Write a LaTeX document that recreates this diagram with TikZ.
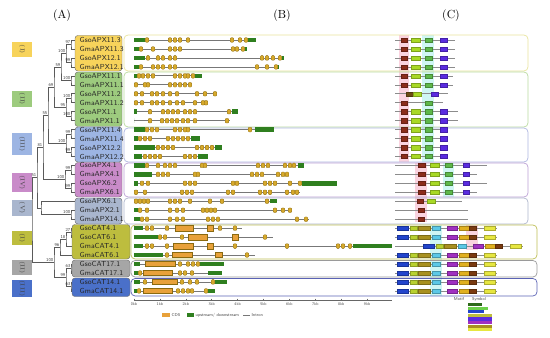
\documentclass[tikz,border=0pt]{standalone}
\usepackage{fontspec}
\usepackage{tikz}
\usetikzlibrary{calc,positioning}

\definecolor{apxI}{HTML}{F7D35B}
\definecolor{apxII}{HTML}{9DCB7E}
\definecolor{apxIII}{HTML}{9DB5E3}
\definecolor{apxIV}{HTML}{C98BC9}
\definecolor{apxV}{HTML}{A9B6CE}
\definecolor{catI}{HTML}{BDBD3E}
\definecolor{catII}{HTML}{A6A6A6}
\definecolor{catIII}{HTML}{4A70C9}
\definecolor{oI}{HTML}{E8E49C}
\definecolor{oII}{HTML}{B9DA9F}
\definecolor{oIII}{HTML}{AEB6E0}
\definecolor{oIV}{HTML}{BBA0D4}
\definecolor{oV}{HTML}{AEB6CB}
\definecolor{ocI}{HTML}{BDBD55}
\definecolor{ocII}{HTML}{9A9A9A}
\definecolor{ocIII}{HTML}{5A62B4}
\definecolor{treec}{HTML}{5A5A5A}
\definecolor{utrc}{HTML}{2F7F1F}
\definecolor{exonc}{HTML}{D6A92C}
\definecolor{exond}{HTML}{8A6A10}
\definecolor{cdsc}{HTML}{E8A13A}
\definecolor{intronc}{HTML}{777777}
\definecolor{pinkst}{HTML}{FAD3DF}
\definecolor{cyanst}{HTML}{CFF6F4}
\definecolor{mRed}{HTML}{8B2C1A}
\definecolor{mLime}{HTML}{A8D926}
\definecolor{mGreen}{HTML}{5DB84A}
\definecolor{mPurp}{HTML}{5A2BE0}
\definecolor{mBrown}{HTML}{6B4A12}
\definecolor{cBlue}{HTML}{2244CC}
\definecolor{cYG}{HTML}{B8D030}
\definecolor{cOlive}{HTML}{A89020}
\definecolor{cCyan}{HTML}{5BC8E6}
\definecolor{cMag}{HTML}{A030C0}
\definecolor{cGold}{HTML}{E0B020}
\definecolor{cBrn}{HTML}{7A3A10}
\definecolor{cYel}{HTML}{E6E640}
\definecolor{lgD}{HTML}{2E6B1A}
\definecolor{lgL}{HTML}{6CD04A}

% one gene model: row, end, utr pieces, exons
\newcommand{\gene}[4]{%
  \pgfmathsetmacro{\gy}{40+8.96*#1}
  \draw[intron] (134,\gy) -- (#2,\gy);
  \foreach \ua/\ub in {#3} {\fill[utrc] (\ua,\gy-2.2) rectangle (\ub,\gy+2.2);}
  \foreach \ex in {#4} {\draw[exon] (\ex-1.8,\gy-2.3) rectangle (\ex+1.8,\gy+2.3);}
}
% long coding block
\newcommand{\cdsb}[3]{%
  \pgfmathsetmacro{\gy}{40+8.96*#1}
  \draw[cdsblk] (#2,\gy-2.6) rectangle (#3,\gy+2.6);
}
% one motif row: row, end, motifs
\newcommand{\motifrow}[3]{%
  \pgfmathsetmacro{\my}{40+8.96*#1}
  \draw[mline] (395,\my) -- (#2,\my);
  \foreach \ma/\mb/\mc in {#3} {\draw[motif,fill=\mc,draw=\mc!75!black] (\ma,\my-2.1) rectangle (\mb,\my+2.1);}
}

\begin{document}
\begin{tikzpicture}[x=0.03cm,y=-0.03cm,
    hdr/.style={font=\fontsize{10}{12}\selectfont,inner sep=0pt},
    branch/.style={draw=treec,line width=0.45pt},
    boot/.style={font=\sffamily\fontsize{3.8}{4}\selectfont,text=black!75,inner sep=0.4pt,anchor=south east},
    gname/.style={font=\sffamily\fontsize{6.2}{7}\selectfont,text=black!85,anchor=west,inner sep=0pt},
    namebox/.style={draw=black!55,line width=0.4pt,rounded corners=2.5pt},
    grpbox/.style={line width=0.6pt,rounded corners=3.5pt},
    sublab/.style={rotate=-90,minimum height=0.6cm,inner sep=0pt,font=\fontsize{5}{6}\selectfont,text=black!75},
    intron/.style={draw=intronc,line width=0.6pt},
    exon/.style={fill=exonc,draw=exond,line width=0.25pt,rounded corners=0.8pt},
    cdsblk/.style={fill=cdsc,draw=exond,line width=0.25pt},
    mline/.style={draw=black!45,line width=0.5pt},
    motif/.style={line width=0.2pt},
    axis/.style={draw=black!60,line width=0.4pt},
    tick/.style={font=\sffamily\fontsize{3.4}{4}\selectfont,text=black!70,inner sep=0pt},
    legt/.style={font=\sffamily\fontsize{3.6}{4}\selectfont,text=black!75,anchor=west,inner sep=0pt}]

    \useasboundingbox (0,0) rectangle (550,338);

    % panel headers
    \node[hdr] (hA) at (62,16) {(A)};
    \node[hdr] (hB) at (282,16) {(B)};
    \node[hdr] (hC) at (451,16) {(C)};

    % subfamily tags
    \node[sublab,fill=apxI,minimum width=0.45cm] (sI) at (22,49.5) {(I)};
    \node[sublab,fill=apxII,minimum width=0.48cm] (sII) at (22,99) {(II)};
    \node[sublab,fill=apxIII,minimum width=0.66cm] (sIII) at (22,144) {(III)};
    \node[sublab,fill=apxIV,minimum width=0.57cm] (sIV) at (22,182.5) {(IV)};
    \node[sublab,fill=apxV,minimum width=0.48cm] (sV) at (22,208) {(V)};
    \node[sublab,fill=catI,minimum width=0.42cm] (scI) at (22,238) {(I)};
    \node[sublab,fill=catII,minimum width=0.45cm] (scII) at (22,267.5) {(II)};
    \node[sublab,fill=catIII,minimum width=0.51cm] (scIII) at (22,288.5) {(III)};

    % leaves and inner nodes of the tree
    \foreach \r in {0,...,20} {\coordinate (L\r) at (76,{40+8.96*\r});}
    \foreach \r in {21,...,28} {\coordinate (L\r) at (73,{40+8.96*\r});}
    \coordinate (nI1) at (71,44.5);
    \coordinate (nI2) at (71,62.4);
    \coordinate (nI) at (66,53.4);
    \coordinate (nII1) at (71,80.3);
    \coordinate (nII2) at (71,98.2);
    \coordinate (nII3) at (71,116.2);
    \coordinate (nII23) at (66,107.2);
    \coordinate (n59) at (61,66.9);
    \coordinate (n69) at (54,87);
    \coordinate (nIII1) at (71,134.1);
    \coordinate (nIII2) at (71,152);
    \coordinate (nIII) at (66,143);
    \coordinate (n55) at (48,115);
    \coordinate (nIV1) at (71,169.9);
    \coordinate (nIV2) at (71,187.8);
    \coordinate (nIV) at (65,178.9);
    \coordinate (n81) at (43,147);
    \coordinate (nV1) at (71,214.7);
    \coordinate (nV) at (41,208);
    \coordinate (n51) at (37,177.5);
    \coordinate (nC1) at (71,232.6);
    \coordinate (nC2) at (66,239.4);
    \coordinate (nC3) at (60,247.2);
    \coordinate (nC4) at (71,268.5);
    \coordinate (nC5) at (71,286.4);
    \coordinate (nC45) at (66,277.4);
    \coordinate (nC) at (54,262.3);
    \coordinate (root) at (32,219.9);

    % branches
    \draw[branch] (L0) -| (nI1) |- (L1);
    \draw[branch] (L2) -| (nI2) |- (L3);
    \draw[branch] (nI1) -| (nI) |- (nI2);
    \draw[branch] (L4) -| (nII1) |- (L5);
    \draw[branch] (L6) -| (nII2) |- (L7);
    \draw[branch] (L8) -| (nII3) |- (L9);
    \draw[branch] (nII2) -| (nII23) |- (nII3);
    \draw[branch] (nI) -| (n59) |- (nII1);
    \draw[branch] (n59) -| (n69) |- (nII23);
    \draw[branch] (L10) -| (nIII1) |- (L11);
    \draw[branch] (L12) -| (nIII2) |- (L13);
    \draw[branch] (nIII1) -| (nIII) |- (nIII2);
    \draw[branch] (n69) -| (n55) |- (nIII);
    \draw[branch] (L14) -| (nIV1) |- (L15);
    \draw[branch] (L16) -| (nIV2) |- (L17);
    \draw[branch] (nIV1) -| (nIV) |- (nIV2);
    \draw[branch] (n55) -| (n81) |- (nIV);
    \draw[branch] (L19) -| (nV1) |- (L20);
    \draw[branch] (L18) -| (nV) |- (nV1);
    \draw[branch] (n81) -| (n51) |- (nV);
    \draw[branch] (L21) -| (nC1) |- (L22);
    \draw[branch] (nC1) -| (nC2) |- (L23);
    \draw[branch] (nC2) -| (nC3) |- (L24);
    \draw[branch] (L25) -| (nC4) |- (L26);
    \draw[branch] (L27) -| (nC5) |- (L28);
    \draw[branch] (nC4) -| (nC45) |- (nC5);
    \draw[branch] (nC3) -| (nC) |- (nC45);
    \draw[branch] (n51) -| (root) |- (nC);

    % bootstrap values
    \node[boot] (bI1) at (nI1) {97};
    \node[boot] (bI2) at (nI2) {99};
    \node[boot] (bI) at (nI) {100};
    \node[boot] (bII1) at (nII1) {100};
    \node[boot] (bII2) at (nII2) {100};
    \node[boot] (bII3) at (nII3) {100};
    \node[boot] (bII23) at (nII23) {95};
    \node[boot] (b59) at (n59) {59};
    \node[boot] (b69) at (n69) {69};
    \node[boot] (bIII1) at (nIII1) {99};
    \node[boot] (bIII2) at (nIII2) {99};
    \node[boot] (bIII) at (nIII) {100};
    \node[boot] (b55) at (n55) {55};
    \node[boot] (bIV1) at (nIV1) {99};
    \node[boot] (bIV2) at (nIV2) {99};
    \node[boot] (bIV) at (nIV) {100};
    \node[boot] (b81) at (n81) {81};
    \node[boot] (bV1) at (nV1) {100};
    \node[boot] (b51) at (n51) {51};
    \node[boot] (bC1) at (nC1) {27};
    \node[boot] (bC2) at (nC2) {18};
    \node[boot] (bC3) at (nC3) {96};
    \node[boot] (bC4) at (nC4) {63};
    \node[boot] (bC5) at (nC5) {63};
    \node[boot] (bC45) at (nC45) {99};
    \node[boot] (bC) at (nC) {100};

    % coloured boxes behind the names
    \draw[namebox,fill=apxI] (75,35.5) rectangle (122,71);
    \draw[namebox,fill=apxII] (75,72) rectangle (122,126.5);
    \draw[namebox,fill=apxIII] (75,127) rectangle (122,162);
    \draw[namebox,fill=apxIV] (75,162.5) rectangle (122,197);
    \draw[namebox,fill=apxV] (75,198) rectangle (122,224);
    \draw[namebox,fill=catI] (72,224.5) rectangle (130,259);
    \draw[namebox,fill=catII] (72,260) rectangle (130,277);
    \draw[namebox,fill=catIII] (72,278) rectangle (130,296.5);

    % gene names
    \foreach \r/\nm in {0/GsoAPX11.3,1/GmaAPX11.3,2/GsoAPX12.1,3/GmaAPX12.1,
        4/GsoAPX11.1,5/GmaAPX11.1,6/GsoAPX11.2,7/GmaAPX11.2,8/GsoAPX1.1,9/GmaAPX1.1,
        10/GsoAPX11.4,11/GmaAPX11.4,12/GsoAPX12.2,13/GmaAPX12.2,
        14/GsoAPX4.1,15/GmaAPX4.1,16/GsoAPX6.2,17/GmaAPX6.1,
        18/GsoAPX6.1,19/GmaAPX2.1,20/GmaAPX14.1,
        21/GsoCAT4.1,22/GsoCAT6.1,23/GmaCAT4.1,24/GmaCAT6.1,
        25/GsoCAT17.1,26/GmaCAT17.1,27/GsoCAT14.1,28/GmaCAT14.1}
        {\node[gname] (gn\r) at (79.5,{40+8.96*\r}) {\nm};}

    % highlight stripes in (C)
    \fill[pinkst] (399,35) rectangle (409,162);
    \fill[cyanst] (422,35) rectangle (434,162);
    \fill[pinkst] (415,163) rectangle (427,222);
    \fill[cyanst] (443,163) rectangle (454,197);
    \fill[cyanst] (430,225) rectangle (442,296);
    \fill[pinkst] (466,225) rectangle (478,250);

    % group frames over (B) and (C)
    \draw[grpbox,draw=oI] (124,35) rectangle (528,71);
    \draw[grpbox,draw=oII] (124,72) rectangle (528,127);
    \draw[grpbox,draw=oIII] (124,128) rectangle (528,162);
    \draw[grpbox,draw=oIV] (124,163) rectangle (528,197);
    \draw[grpbox,draw=oV] (124,198) rectangle (528,224);
    \draw[grpbox,draw=ocI] (131,225) rectangle (537,259);
    \draw[grpbox,draw=ocII] (131,260.5) rectangle (537,277);
    \draw[grpbox,draw=ocIII] (131,278.5) rectangle (537,296);

    % gene structures (B)
    \gene{0}{256}{134/145,248/256}{147,170,175,180,188,232,240,246}
    \gene{1}{247}{134/139,245/247}{141,153,170,175,180,233,237,243}
    \gene{2}{284}{134/145,282/284}{148,158,163,170,175,262,267,273,280}
    \gene{3}{279}{134/139,277/279}{141,153,158,163,170,175,257,267,276}
    \gene{4}{202}{134/137,195/202}{139,143,148,153,175,180,185,188,193}
    \gene{5}{191}{134/134}{136,145,148,170,175,180,185,190}
    \gene{6}{217}{134/134}{136,142,152,157,163,170,177,197,205,215}
    \gene{7}{208}{134/134}{136,142,152,157,163,170,177,183,195,203,206}
    \gene{8}{238}{134/137,232/238}{150,163,168,173,178,185,190,195,229}
    \gene{9}{230}{134/134}{150,162,167,172,177,183,188,195,227}
    \gene{10}{274}{134/145,255/274}{147,152,157,175,180,185,188,250}
    \gene{11}{200}{134/138,191/200}{140,145,150,168,173,178,183,188}
    \gene{12}{222}{134/155,215/222}{158,163,168,173,197,202,207,212}
    \gene{13}{208}{134/142,198/208}{145,150,155,160,185,190,195}
    \gene{14}{304}{134/145,298/304}{147,158,165,170,175,202,205,258,263,268,285,290,294}
    \gene{15}{289}{134/152}{158,163,168,195,198,252,257,262,278,283,287}
    \gene{16}{337}{134/138,302/337}{142,148,185,190,195,233,237,265,270,275,290,300}
    \gene{17}{300}{134/134}{136,145,182,187,192,228,233,260,265,270,287,293,297}
    \gene{18}{277}{134/134,270/277}{136,140,144,148,170,175,180,190,210,222,267}
    \gene{19}{292}{134/138}{140,147,170,177,183,203,207,211,215,275,283,290}
    \gene{20}{309}{134/140}{142,147,170,177,183,208,213,218,297,306}
    \gene{21}{242}{134/143}{147,152,167,220,235}
    \cdsb{21}{175}{193} \cdsb{21}{207}{213}
    \gene{22}{273}{134/158}{160,165,182,265}
    \cdsb{22}{188}{207} \cdsb{22}{232}{238}
    \gene{23}{392}{134/143,353/392}{147,152,167,235,287,338,343,350}
    \cdsb{23}{173}{193} \cdsb{23}{207}{213}
    \gene{24}{255}{134/163}{167,247}
    \cdsb{24}{172}{192} \cdsb{24}{215}{222}
    \gene{25}{224}{134/140,200/224}{180,188,193,198}
    \cdsb{25}{145}{175}
    \gene{26}{222}{134/138,208/222}{140,180,185,192}
    \cdsb{26}{143}{172}
    \gene{27}{227}{134/140,215/227}{145,182,190,197,213}
    \cdsb{27}{152}{177}
    \gene{28}{215}{134/137,208/215}{139,178,183,188,192,206}
    \cdsb{28}{143}{172}

    % scale bar
    \draw[axis] (134,300) -- (392,300);
    \foreach \k in {0,...,9} {
        \draw[axis] ({134+25.9*\k},298.5) -- ({134+25.9*\k},300);
        \node[tick] (t\k) at ({134+25.9*\k},304) {\k kb};
    }

    % legend (B)
    \fill[cdsc] (162,313) rectangle (170,317);
    \node[legt] (lcds) at (171.5,315) {CDS};
    \fill[utrc] (187,313) rectangle (194,317);
    \node[legt] (lutr) at (195.5,315) {upstream/ downstream};
    \draw[intron,line width=0.8pt] (243,315) -- (250,315);
    \node[legt] (lint) at (251.5,315) {Intron};

    % conserved motifs (C)
    \foreach \r/\e in {0/455,1/455,2/455,3/455,4/453,5/453,8/458,9/458,10/448,11/448,12/448,13/448}
        {\motifrow{\r}{\e}{401/407/mRed,411/420/mLime,425/432/mGreen,440/447/mPurp}}
    \motifrow{6}{448}{406/413/mBrown,413/421/mLime,431/438/mPurp}
    \motifrow{7}{443}{401/407/mRed,425/432/mGreen}
    \foreach \r/\e in {14/487,15/477,16/487,17/477}
        {\motifrow{\r}{\e}{418/425/mRed,430/439/mLime,445/452/mGreen,463/469/mPurp}}
    \motifrow{18}{462}{417/423/mRed,427/435/mLime}
    \motifrow{19}{468}{418/424/mRed}
    \motifrow{20}{468}{418/424/mRed}
    \foreach \r in {21,22,24,25,26,27,28}
        {\motifrow{\r}{497}{397/408/cBlue,410/417/cYG,418/430/cOlive,432/440/cCyan,447/457/cMag,459/469/cGold,469/476/cBrn,484/495/cYel}}
    \motifrow{23}{523}{423/434/cBlue,436/443/cYG,444/456/cOlive,458/466/cCyan,473/483/cMag,485/495/cGold,495/502/cBrn,510/521/cYel}

    % legend (C)
    \node[legt,anchor=center] (lmot) at (459,299) {Motif};
    \node[legt,anchor=center] (lsym) at (479,299) {Symbol};
    \foreach \i/\c/\w in {0/lgD/482,1/lgL/488,2/cBlue/484,3/catI/492,4/mPurp/492,5/cMag/492,6/cOlive/492,7/cYel/492}
        {\fill[fill=\c] (468,{303+3.6*\i}) rectangle (\w,{306.2+3.6*\i});}
\end{tikzpicture}
\end{document}
